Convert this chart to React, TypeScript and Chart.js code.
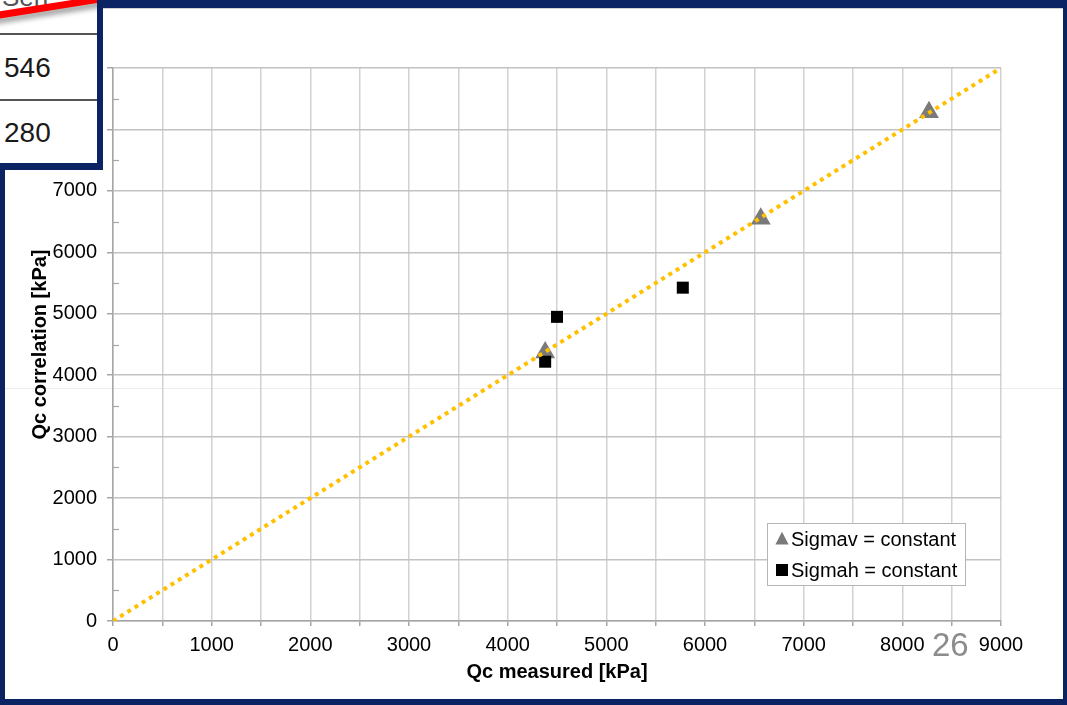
import React, { useEffect, useRef } from "react";
import { Chart, registerables } from "chart.js";

Chart.register(...registerables);

const W = 1067;
const H = 705;

// Data
const sigmavX = [4380, 6565, 8270];
const sigmavY = [4370, 6546, 8280];
const sigmahX = [4500, 4380, 5775];
const sigmahY = [4950, 4220, 5425];
const fitX = [0, 9000];
const fitY = [0, 9000];
const seriesNames = ["Sigmav = constant", "Sigmah = constant"];
const xTitle = "Qc measured [kPa]";
const yTitle = "Qc correlation [kPa]";
const axisMin = 0;
const axisMax = 9000;
const tableValues = ["546", "280"];
const tableHeader = "Seri";
const pageNumber = "26";

const NAVY = "#0b2263";
const FONT = "'Liberation Sans', Arial, Helvetica, sans-serif";

const toPoints = (xs: number[], ys: number[]) => xs.map((x, i) => ({ x, y: ys[i] }));

function drawMarker(ctx: CanvasRenderingContext2D, style: string, cx: number, cy: number, s: number, color: string) {
  ctx.fillStyle = color;
  ctx.beginPath();
  if (style === "triangle") {
    ctx.moveTo(cx, cy - s * 0.6);
    ctx.lineTo(cx + s * 0.55, cy + s * 0.45);
    ctx.lineTo(cx - s * 0.55, cy + s * 0.45);
    ctx.closePath();
  } else {
    ctx.rect(cx - s / 2, cy - s / 2, s, s);
  }
  ctx.fill();
}

const extrasPlugin = {
  id: "extras",
  afterDraw(chart: any) {
    const { ctx, chartArea, scales } = chart;
    const y = scales.y;
    ctx.save();
    // minor ticks inside the plot on the y axis
    ctx.strokeStyle = "#a6a6a6";
    ctx.lineWidth = 1.2;
    for (let v = axisMin + 500; v < axisMax; v += 1000) {
      const py = Math.round(y.getPixelForValue(v)) + 0.5;
      ctx.beginPath();
      ctx.moveTo(chartArea.left, py);
      ctx.lineTo(chartArea.left + 6, py);
      ctx.stroke();
    }
    // legend box
    const lw = 198;
    const lh = 62;
    const lx = chartArea.right - 234;
    const ly = chartArea.bottom - 98;
    ctx.fillStyle = "#ffffff";
    ctx.fillRect(lx, ly, lw, lh);
    ctx.strokeStyle = "#b5b5b5";
    ctx.lineWidth = 1;
    ctx.strokeRect(lx + 0.5, ly + 0.5, lw, lh);
    ctx.font = `20px ${FONT}`;
    ctx.textBaseline = "middle";
    ctx.textAlign = "left";
    const ds = chart.data.datasets;
    const entries = [ds[2], ds[1]];
    entries.forEach((d: any, i: number) => {
      const cy = ly + 16 + i * 31;
      drawMarker(ctx, d.pointStyle, lx + 15, cy, 12, d.backgroundColor);
      ctx.fillStyle = "#000";
      ctx.fillText(d.label, lx + 24, cy + 1);
    });
    ctx.restore();
  },
};

function ChartCanvas() {
  const ref = useRef<HTMLCanvasElement | null>(null);
  useEffect(() => {
    if (!ref.current) return;
    const chart = new Chart(ref.current, {
      type: "scatter",
      data: {
        datasets: [
          {
            label: "fit",
            type: "line",
            data: toPoints(fitX, fitY),
            borderColor: "#FFC000",
            borderWidth: 4,
            borderDash: [4, 4.5],
            pointRadius: 0,
            fill: false,
          },
          {
            label: seriesNames[1],
            data: toPoints(sigmahX, sigmahY),
            pointStyle: "rect",
            backgroundColor: "#000000",
            borderColor: "#000000",
            borderWidth: 0,
            pointRadius: 8.5,
          },
          {
            label: seriesNames[0],
            data: toPoints(sigmavX, sigmavY),
            pointStyle: "triangle",
            backgroundColor: "#7a7a7a",
            borderColor: "#7a7a7a",
            borderWidth: 0,
            pointRadius: 11.5,
          },
        ],
      } as any,
      options: {
        responsive: false,
        animation: false,
        devicePixelRatio: 1,
        layout: { padding: { left: 24, right: 66, top: 68, bottom: 17 } },
        plugins: {
          legend: { display: false },
          tooltip: { enabled: false },
          title: { display: false },
        },
        scales: {
          x: {
            type: "linear",
            min: axisMin,
            max: axisMax,
            afterFit: (axis: any) => {
              axis.height = 67;
            },
            ticks: {
              stepSize: 500,
              autoSkip: false,
              maxRotation: 0,
              padding: 7,
              color: "#000",
              font: { family: FONT, size: 20 },
              callback: (v: any) => (Number(v) % 1000 === 0 ? String(v) : ""),
            },
            grid: {
              color: "#d2d2d2",
              lineWidth: 1.5,
              tickLength: 5,
              tickColor: "#a6a6a6",
            },
            border: { color: "#a6a6a6", width: 1.5 },
            title: {
              display: true,
              text: xTitle,
              color: "#000",
              font: { family: FONT, size: 20, weight: "bold" },
              padding: { top: 4, bottom: 4 },
            },
          },
          y: {
            type: "linear",
            min: axisMin,
            max: axisMax,
            afterFit: (axis: any) => {
              axis.width = 89;
            },
            ticks: {
              stepSize: 1000,
              padding: 10,
              color: "#000",
              font: { family: FONT, size: 20 },
              callback: (v: any) => String(v),
            },
            grid: {
              color: "#c2c2c2",
              lineWidth: 1.5,
              tickLength: 6,
              tickColor: "#a6a6a6",
            },
            border: { color: "#a6a6a6", width: 1.5 },
            title: {
              display: true,
              text: yTitle,
              color: "#000",
              font: { family: FONT, size: 20, weight: "bold" },
              padding: { top: 4, bottom: 4 },
            },
          },
        },
      } as any,
      plugins: [extrasPlugin],
    });
    return () => chart.destroy();
  }, []);
  return (
    <canvas
      ref={ref}
      width={W}
      height={H}
      style={{ position: "absolute", left: 0, top: 0, width: W, height: H }}
    />
  );
}

export default function App() {
  return (
    <div
      style={{
        position: "fixed",
        left: 0,
        top: 0,
        width: W,
        height: H,
        background: NAVY,
        overflow: "hidden",
        fontFamily: FONT,
      }}
    >
      {/* white slide panel */}
      <div
        style={{
          position: "absolute",
          left: 5,
          top: 8,
          right: 4,
          bottom: 6,
          background: "#ffffff",
          borderTop: "1px solid #cfcfcf",
        }}
      />
      {/* faint slide seam */}
      <div
        style={{
          position: "absolute",
          left: 5,
          right: 4,
          top: 388,
          height: 1,
          background: "#ececec",
        }}
      />
      <ChartCanvas />
      {/* overlapping table fragment, top-left */}
      <div
        style={{
          position: "absolute",
          left: 0,
          top: 0,
          width: 103,
          height: 170,
          background: NAVY,
          overflow: "hidden",
        }}
      >
        <div
          style={{
            position: "absolute",
            left: 0,
            top: 0,
            width: 97,
            height: 163,
            background: "#ffffff",
            overflow: "hidden",
          }}
        >
          <div
            style={{
              position: "absolute",
              left: 2,
              top: -16,
              fontSize: 26,
              color: "#555",
              lineHeight: "26px",
            }}
          >
            {tableHeader}
          </div>
          <div
            style={{
              position: "absolute",
              left: -10,
              top: 13,
              width: 120,
              height: 7,
              background: "#ff0000",
              transform: "rotate(-9deg)",
              transformOrigin: "0 50%",
              boxShadow: "0 5px 5px rgba(0,0,0,0.35)",
            }}
          />
          <div style={{ position: "absolute", left: 0, top: 33, width: 97, height: 2, background: "#555" }} />
          <div style={{ position: "absolute", left: 0, top: 99, width: 97, height: 2, background: "#555" }} />
          <div
            style={{
              position: "absolute",
              left: 4,
              top: 52,
              fontSize: 28,
              lineHeight: "32px",
              color: "#1a1a1a",
            }}
          >
            {tableValues[0]}
          </div>
          <div
            style={{
              position: "absolute",
              left: 4,
              top: 117,
              fontSize: 28,
              lineHeight: "32px",
              color: "#1a1a1a",
            }}
          >
            {tableValues[1]}
          </div>
        </div>
      </div>
      {/* slide number */}
      <div
        style={{
          position: "absolute",
          left: 932,
          top: 628,
          fontSize: 33,
          lineHeight: "33px",
          color: "#8c8c8c",
        }}
      >
        {pageNumber}
      </div>
    </div>
  );
}
